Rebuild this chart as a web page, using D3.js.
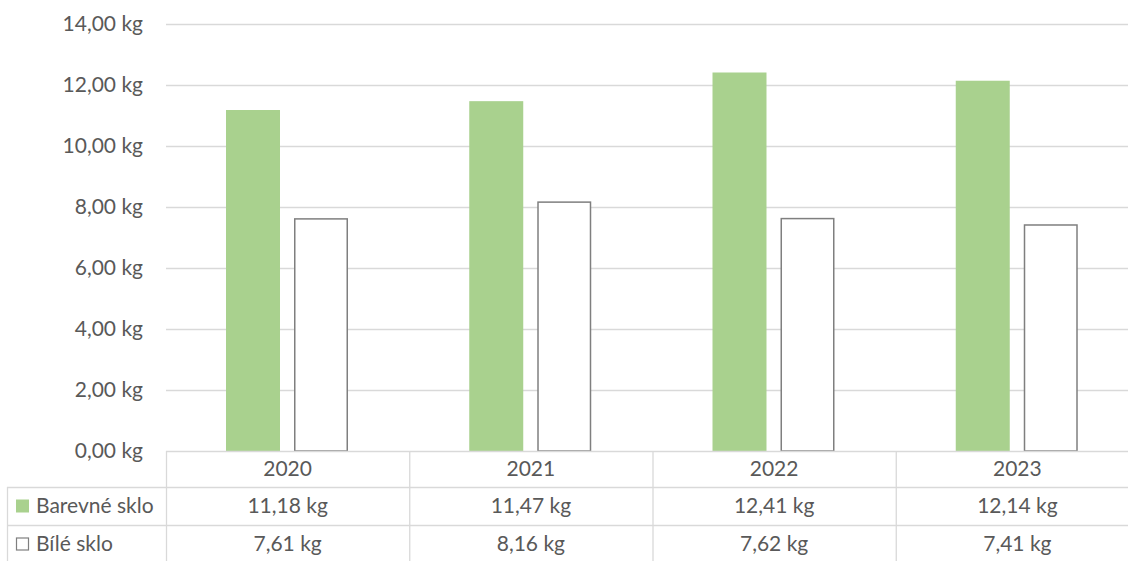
<!DOCTYPE html>
<html><head><meta charset="utf-8">
<script src="https://cdn.jsdelivr.net/npm/d3@7"></script>
<style>body{margin:0;background:#fff}svg{display:block}text{font-family:Lato,"Open Sans",sans-serif;fill:#595959}</style>
</head><body><svg id="c" width="1128" height="561"></svg>
<script>
const years = ["2020","2021","2022","2023"];
const seriesNames = ["Barevné sklo","Bílé sklo"];
const barevne = [11.18,11.47,12.41,12.14];
const bile = [7.61,8.16,7.62,7.41];
const yTicks = [0,2,4,6,8,10,12,14];

const svg = d3.select("#c");
const L=166, R=1139, T=24, B=451;
const FS=21;
const fmt = v => v.toFixed(2).replace(".",",") + " kg";
const x = d3.scaleBand().domain(years).range([L,R]);
const x1 = d3.scaleBand().domain(seriesNames).range([60,182]).paddingInner(0.206);
const y = d3.scaleLinear().domain([0,14]).range([B,T]);
const grid="#d9d9d9";

svg.append("g").selectAll("line").data(yTicks.filter(d=>d>0)).join("line")
  .attr("x1",L).attr("x2",R).attr("y1",d=>y(d)+0.5).attr("y2",d=>y(d)+0.5)
  .attr("stroke",grid).attr("stroke-width",1.3);
svg.append("g").selectAll("text").data(yTicks).join("text")
  .attr("x",143).attr("y",d=>y(d)).attr("dy","0.35em").attr("text-anchor","end")
  .attr("font-size",FS).text(fmt);

const series=[{name:seriesNames[0],vals:barevne,fill:"#a9d18e",stroke:"none"},
              {name:seriesNames[1],vals:bile,fill:"#ffffff",stroke:"#7f7f7f"}];
series.forEach(s=>{
  svg.append("g").selectAll("rect").data(years).join("rect")
    .attr("x",(d)=>x(d)+x1(s.name)+(s.stroke==="none"?0:0.75))
    .attr("width",x1.bandwidth()-(s.stroke==="none"?0:1.5))
    .attr("y",(d,i)=>y(s.vals[i]))
    .attr("height",(d,i)=>B-y(s.vals[i]))
    .attr("fill",s.fill).attr("stroke",s.stroke).attr("stroke-width",1.5);
});

// data table
const rowY=[451,487,525,563];
const tg=svg.append("g").attr("stroke",grid).attr("stroke-width",1.3).attr("fill","none");
tg.append("line").attr("x1",L).attr("x2",R).attr("y1",451.5).attr("y2",451.5);
tg.append("line").attr("x1",7).attr("x2",R).attr("y1",487.5).attr("y2",487.5);
tg.append("line").attr("x1",7).attr("x2",R).attr("y1",525.5).attr("y2",525.5);
tg.append("line").attr("x1",7.5).attr("x2",7.5).attr("y1",487).attr("y2",563);
tg.selectAll("line.v").data(years.concat(["end"])).join("line").attr("class","v")
  .attr("x1",(d,i)=>i<4?x(d)+0.5:R).attr("x2",(d,i)=>i<4?x(d)+0.5:R).attr("y1",451).attr("y2",563);

svg.append("g").selectAll("text").data(years).join("text")
  .attr("x",d=>x(d)+x.bandwidth()/2).attr("y",469).attr("dy","0.35em")
  .attr("text-anchor","middle").attr("font-size",FS).text(d=>d);
series.forEach((s,si)=>{
  const cy=(rowY[si+1]+rowY[si+2])/2;
  svg.append("g").selectAll("text").data(years).join("text")
    .attr("x",d=>x(d)+x.bandwidth()/2).attr("y",cy).attr("dy","0.35em")
    .attr("text-anchor","middle").attr("font-size",FS).text((d,i)=>fmt(s.vals[i]));
  svg.append("rect").attr("x",s.stroke==="none"?16:16.5).attr("y",cy-6.5+(s.stroke==="none"?0:0.5))
    .attr("width",s.stroke==="none"?13:12).attr("height",s.stroke==="none"?13:12)
    .attr("fill",s.fill).attr("stroke",s.stroke).attr("stroke-width",1.2);
  svg.append("text").attr("x",36).attr("y",cy).attr("dy","0.35em").attr("font-size",FS).text(s.name);
});
</script></body></html>
